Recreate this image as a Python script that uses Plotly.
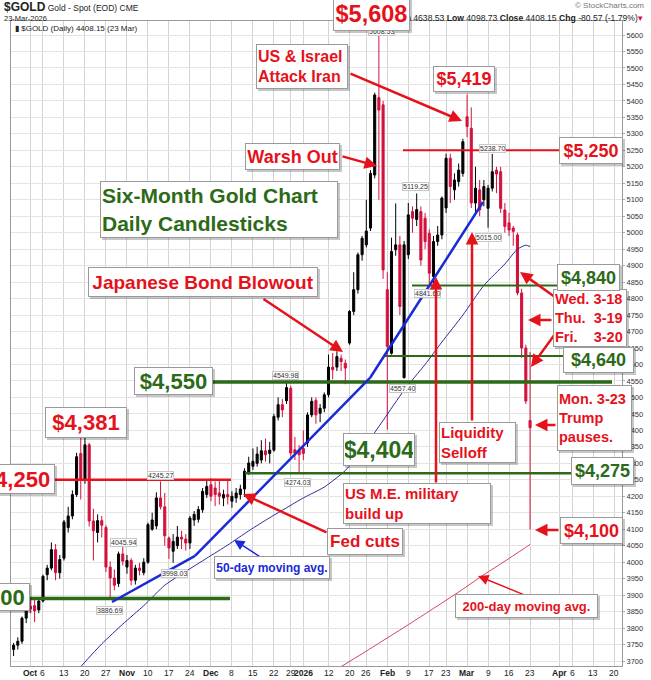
import plotly.graph_objects as go

# ---------------- data ----------------
dates = [
    "2025-09-25", "2025-09-26", "2025-09-29", "2025-09-30",
    "2025-10-01", "2025-10-02", "2025-10-03", "2025-10-06", "2025-10-07", "2025-10-08", "2025-10-09", "2025-10-10",
    "2025-10-13", "2025-10-14", "2025-10-15", "2025-10-16", "2025-10-17", "2025-10-20", "2025-10-21", "2025-10-22",
    "2025-10-23", "2025-10-24", "2025-10-27", "2025-10-28", "2025-10-29", "2025-10-30", "2025-10-31",
    "2025-11-03", "2025-11-04", "2025-11-05", "2025-11-06", "2025-11-07", "2025-11-10", "2025-11-11", "2025-11-12",
    "2025-11-13", "2025-11-14", "2025-11-17", "2025-11-18", "2025-11-19", "2025-11-20", "2025-11-21", "2025-11-24",
    "2025-11-25", "2025-11-26", "2025-11-27", "2025-11-28",
    "2025-12-01", "2025-12-02", "2025-12-03", "2025-12-04", "2025-12-05", "2025-12-08", "2025-12-09", "2025-12-10",
    "2025-12-11", "2025-12-12", "2025-12-15", "2025-12-16", "2025-12-17", "2025-12-18", "2025-12-19", "2025-12-22",
    "2025-12-23", "2025-12-24", "2025-12-26", "2025-12-29", "2025-12-30", "2025-12-31",
    "2026-01-02", "2026-01-05", "2026-01-06", "2026-01-07", "2026-01-08", "2026-01-09", "2026-01-12", "2026-01-13",
    "2026-01-14", "2026-01-15", "2026-01-16", "2026-01-20", "2026-01-21", "2026-01-22", "2026-01-23", "2026-01-26",
    "2026-01-27", "2026-01-28", "2026-01-29", "2026-01-30",
    "2026-02-02", "2026-02-03", "2026-02-04", "2026-02-05", "2026-02-06", "2026-02-09", "2026-02-10", "2026-02-11",
    "2026-02-12", "2026-02-13", "2026-02-17", "2026-02-18", "2026-02-19", "2026-02-20", "2026-02-23", "2026-02-24",
    "2026-02-25", "2026-02-26", "2026-02-27",
    "2026-03-02", "2026-03-03", "2026-03-04", "2026-03-05", "2026-03-06", "2026-03-09", "2026-03-10", "2026-03-11",
    "2026-03-12", "2026-03-13", "2026-03-16", "2026-03-17", "2026-03-18", "2026-03-19", "2026-03-20", "2026-03-23",
]

open_ = [
    3735, 3748, 3760, 3830,
    3866, 3868, 3855, 3882, 3962, 3982, 4038, 3968,
    4012, 4105, 4140, 4205, 4330, 4250, 4356, 4125,
    4090, 4126, 4105, 3985, 3952, 3935, 4025,
    3985, 4005, 3945, 3982, 3968, 4000, 4100, 4110,
    4195, 4168, 4073, 4033, 4050, 4076, 4070, 4058,
    4128, 4130, 4159, 4205,
    4235, 4225, 4210, 4195, 4205, 4185, 4195, 4205,
    4222, 4272, 4291, 4300, 4310, 4338, 4330, 4340,
    4440, 4478, 4490, 4528, 4341, 4341,
    4345, 4362, 4447, 4491, 4452, 4467, 4508, 4592,
    4592, 4619, 4604, 4665, 4761, 4827, 4933, 4963,
    5014, 5175, 5410, 5388,
    4827, 4634, 4948, 4963, 4560, 4933, 5064, 5040,
    5064, 5044, 4998, 4867, 4973, 4993, 5075, 5226,
    5130, 5155, 5180,
    5352, 5317, 5090, 5130, 5100, 5074, 5135, 5190,
    5185, 5069, 5030, 5014, 4993, 4817, 4650, 4430,
]

high = [
    3755, 3772, 3835, 3868,
    3885, 3888, 3892, 3962, 3992, 4060, 4055, 4022,
    4128, 4168, 4218, 4332, 4380, 4381, 4362, 4162,
    4145, 4140, 4112, 4002, 3978, 4032, 4046,
    4022, 4012, 3992, 3998, 4012, 4120, 4150, 4212,
    4245, 4210, 4078, 4085, 4110, 4095, 4085, 4140,
    4155, 4170, 4225, 4250,
    4255, 4245, 4250, 4220, 4250, 4215, 4225, 4235,
    4285, 4320, 4345, 4350, 4370, 4375, 4365, 4450,
    4500, 4495, 4550, 4535, 4380, 4355,
    4400, 4455, 4500, 4500, 4480, 4515, 4630, 4635,
    4640, 4630, 4615, 4765, 4880, 4940, 4990, 5100,
    5190, 5425, 5608, 5400,
    4880, 4985, 5089, 4990, 4975, 5090, 5080, 5119,
    5080, 5060, 5010, 4990, 5020, 5110, 5240, 5240,
    5180, 5210, 5285,
    5419, 5380, 5200, 5160, 5160, 5145, 5239, 5200,
    5200, 5090, 5060, 5020, 5000, 4830, 4660, 4638,
]

low = [
    3715, 3735, 3752, 3815,
    3845, 3818, 3845, 3878, 3945, 3975, 3945, 3950,
    4005, 4090, 4130, 4198, 4190, 4238, 4108, 4005,
    4060, 4075, 3970, 3887, 3915, 3925, 3990,
    3965, 3930, 3932, 3960, 3960, 3995, 4095, 4100,
    4160, 4050, 4010, 3998, 4040, 4040, 4035, 4040,
    4110, 4120, 4150, 4195,
    4185, 4170, 4175, 4170, 4175, 4165, 4180, 4190,
    4198, 4265, 4280, 4290, 4300, 4305, 4300, 4335,
    4430, 4440, 4480, 4320, 4310, 4274,
    4310, 4350, 4440, 4420, 4425, 4455, 4500, 4555,
    4580, 4580, 4540, 4660, 4750, 4815, 4915, 4955,
    5005, 5165, 5100, 4860,
    4402, 4630, 4930, 4750, 4557, 4920, 5000, 5020,
    4900, 4950, 4845, 4842, 4960, 4980, 5060, 5090,
    5100, 5140, 5170,
    5290, 5075, 5060, 5050, 5080, 5015, 5125, 5120,
    5060, 5000, 4990, 4960, 4810, 4620, 4480, 4099,
]

close = [
    3748, 3760, 3830, 3856,
    3858, 3852, 3882, 3957, 3982, 4038, 3968, 4008,
    4122, 4140, 4205, 4320, 4250, 4356, 4125, 4095,
    4126, 4112, 3985, 3952, 3930, 4025, 4003,
    4005, 3945, 3982, 3975, 4000, 4114, 4128, 4195,
    4168, 4080, 4043, 4063, 4076, 4070, 4058, 4134,
    4145, 4160, 4215, 4230,
    4200, 4205, 4200, 4205, 4198, 4200, 4210, 4222,
    4276, 4301, 4306, 4328, 4338, 4326, 4340, 4442,
    4478, 4462, 4530, 4331, 4331, 4326,
    4330, 4447, 4488, 4447, 4467, 4508, 4592, 4584,
    4624, 4609, 4589, 4761, 4827, 4933, 4983, 5005,
    5180, 5418, 5372, 4887,
    4655, 4943, 4963, 4776, 4963, 5054, 5044, 5070,
    4917, 4973, 4877, 4973, 4993, 5105, 5226, 5140,
    5160, 5190, 5276,
    5322, 5090, 5135, 5069, 5140, 5135, 5185, 5178,
    5074, 5019, 5008, 5004, 4817, 4650, 4489, 4408,
]

ma50_dates = ["2025-10-17", "2025-10-24", "2025-10-31", "2025-11-07", "2025-11-14", "2025-11-21", "2025-11-28",
              "2025-12-05", "2025-12-12", "2025-12-19", "2025-12-26", "2026-01-02", "2026-01-09", "2026-01-16",
              "2026-01-23", "2026-01-30", "2026-02-06", "2026-02-13", "2026-02-20", "2026-02-27", "2026-03-06",
              "2026-03-13", "2026-03-18", "2026-03-20", "2026-03-23"]
ma50_vals = [3683, 3752, 3812, 3868, 3930, 3972, 4012,
             4052, 4095, 4135, 4165, 4195, 4228, 4278,
             4340, 4430, 4522, 4600, 4668, 4750, 4840,
             4905, 4950, 4962, 4958]

ma200_dates = ["2026-01-15", "2026-01-23", "2026-01-30", "2026-02-06", "2026-02-13", "2026-02-20",
               "2026-02-27", "2026-03-06", "2026-03-13", "2026-03-20", "2026-03-23"]
ma200_vals = [3683, 3722, 3762, 3802, 3843, 3876, 3918, 3962, 4003, 4045, 4054]

tick_dates = ["2025-10-01", "2025-10-06", "2025-10-13", "2025-10-20", "2025-10-27", "2025-11-03", "2025-11-10",
              "2025-11-17", "2025-11-24", "2025-12-01", "2025-12-08", "2025-12-15", "2025-12-22", "2025-12-29",
              "2026-01-02", "2026-01-12", "2026-01-20", "2026-01-26", "2026-02-02", "2026-02-09", "2026-02-17",
              "2026-02-23", "2026-03-02", "2026-03-09", "2026-03-16", "2026-03-23", "2026-04-01", "2026-04-06",
              "2026-04-13", "2026-04-20"]
tick_text = ["<b>Oct</b>", "6", "13", "20", "27", "<b>Nov</b>", "10", "17", "24", "<b>Dec</b>", "8", "15", "22", "29",
             "<b>2026</b>", "12", "20", "26", "<b>Feb</b>", "9", "17", "23", "<b>Mar</b>", "9", "16", "23",
             "<b>Apr</b>", "6", "13", "20"]

price_ticks = [3700, 3750, 3800, 3850, 3900, 3950, 4000, 4050, 4100, 4150, 4200, 4250, 4300, 4350, 4400, 4450,
               4500, 4550, 4600, 4650, 4700, 4750, 4800, 4850, 4900, 4950, 5000, 5050, 5100, 5150, 5200, 5250,
               5300, 5350, 5400, 5450, 5500, 5550, 5600]

holidays = ["2025-12-25", "2026-01-01", "2026-01-19", "2026-02-16"]

# ---------------- styling / layout helpers ----------------
W, H = 651, 680
PL, PR, PT, PB = 11, 622, 21, 666
FONT = "Liberation Sans, Arial, sans-serif"
RED = "#e5121c"
GREEN = "#2c6a18"
BLUE = "#1a2ad6"
CANDLE_RED = "#d3103c"
PX_PER_DOLLAR = 626 / 1900.0   # 5600 at y=35, 3700 at y=661


def fx(px):
    return (px - PL) / (PR - PL)


def fy(py):
    return (PB - py) / (PB - PT)


y_top = 5600 + (35 - PT) / PX_PER_DOLLAR
y_bot = 3700 - (PB - 661) / PX_PER_DOLLAR

fig = go.Figure()

fig.add_trace(go.Candlestick(
    x=dates, open=open_, high=high, low=low, close=close,
    increasing=dict(line=dict(color="#000000", width=1), fillcolor="#000000"),
    decreasing=dict(line=dict(color=CANDLE_RED, width=1), fillcolor=CANDLE_RED),
    whiskerwidth=0, showlegend=False, hoverinfo="skip",
))
fig.add_trace(go.Scatter(x=ma50_dates, y=ma50_vals, mode="lines",
                         line=dict(color="#2b2b9c", width=1, shape="spline", smoothing=0.6),
                         showlegend=False, hoverinfo="skip"))
fig.add_trace(go.Scatter(x=ma200_dates, y=ma200_vals, mode="lines",
                         line=dict(color="#d4405e", width=1, shape="spline", smoothing=0.6),
                         showlegend=False, hoverinfo="skip"))

shapes = []


def hline(price, px0, px1, color, width):
    shapes.append(dict(type="line", xref="paper", yref="y", x0=fx(px0), x1=fx(px1), y0=price, y1=price,
                       line=dict(color=color, width=width), layer="above"))


hline(4250, 55, 231, RED, 2.5)
hline(5250, 403, 559, RED, 2)
hline(4547, 213, 612, GREEN, 3.5)
hline(3890, 30, 230, GREEN, 3.5)
hline(4270, 245, 571, GREEN, 2.5)
hline(4626, 383, 563, GREEN, 2)
hline(4840, 412, 557, GREEN, 2)

# blue trend line (pixel x, price y)
trend = [(112, 3879), (195, 4019), (370, 4559), (483, 5093)]
for (xa, ya), (xb, yb) in zip(trend[:-1], trend[1:]):
    shapes.append(dict(type="line", xref="paper", yref="y", x0=fx(xa), x1=fx(xb), y0=ya, y1=yb,
                       line=dict(color=BLUE, width=2.5), layer="above"))

annotations = []

# x-axis date labels, placed through the date axis
for d, t in zip(tick_dates, tick_text):
    annotations.append(dict(xref="x", yref="paper", x=d, y=fy(672.5), xanchor="center", yanchor="middle",
                            showarrow=False, text=t, font=dict(family=FONT, size=8.5, color="#222")))

# header texts
annotations.append(dict(xref="paper", yref="paper", x=fx(2), y=fy(7), xanchor="left", yanchor="middle",
                        showarrow=False, font=dict(family=FONT, size=8.5, color="#222"),
                        text="<b><span style='font-size:12px'>$GOLD</span></b> Gold - Spot (EOD) CME"))
annotations.append(dict(xref="paper", yref="paper", x=fx(2), y=fy(18.5), xanchor="left", yanchor="middle",
                        showarrow=False, font=dict(family=FONT, size=7.5, color="#222"), text="23-Mar-2026"))
annotations.append(dict(xref="paper", yref="paper", x=fx(646), y=fy(6), xanchor="right", yanchor="middle",
                        showarrow=False, font=dict(family=FONT, size=8, color="#777"), text="© StockCharts.com"))
annotations.append(dict(xref="paper", yref="paper", x=fx(645), y=fy(18), xanchor="right", yanchor="middle",
                        showarrow=False, font=dict(family=FONT, size=8.6, color="#222"),
                        text="<b>Open</b> 4426.57 <b>High</b> 4638.53 <b>Low</b> 4098.73 <b>Close</b> 4408.15 "
                             "<b>Chg</b> -80.57 (-1.79%)<span style='color:#d3103c'>▾</span>"))
annotations.append(dict(xref="paper", yref="paper", x=fx(13), y=fy(28), xanchor="left", yanchor="middle",
                        showarrow=False, font=dict(family=FONT, size=8, color="#222"),
                        text="▮ $GOLD (Daily) 4408.15 (23 Mar)"))

# small value tags
tags = [("5608.53", 381, 31), ("4549.98", 285, 375), ("4274.03", 297, 482), ("4245.27", 160, 476),
        ("4045.94", 123, 542), ("3998.03", 174, 573), ("3886.69", 110, 610), ("5119.25", 415, 187),
        ("5238.70", 492, 148), ("5015.00", 488, 237), ("4841.60", 428, 294), ("4557.40", 402, 388)]
for t, px, py in tags:
    annotations.append(dict(xref="paper", yref="paper", x=fx(px), y=fy(py), xanchor="center", yanchor="middle",
                            showarrow=False, text=t, font=dict(family=FONT, size=7, color="#333"),
                            bgcolor="rgba(255,255,255,0.9)", bordercolor="#c8c8c8", borderwidth=1, borderpad=0))

# arrows: (tail_x, tail_y, tip_x, tip_y, color, width)
arrows = [
    (349, 73, 462, 121, RED, 2.5),
    (341, 156, 377, 166, RED, 2.5),
    (262, 298, 343, 352, RED, 2.5),
    (436, 484, 436, 277, RED, 2.5),
    (472, 422, 472, 232, RED, 2.5),
    (328, 533, 243, 494, RED, 2.5),
    (262, 558, 234, 540, BLUE, 1.5),
    (527, 596, 478, 576, RED, 1.5),
    (560, 530, 535, 530, RED, 2.5),
    (557, 425, 535, 425, RED, 2.5),
    (555, 297, 520, 272, RED, 2.5),
    (553, 320, 528, 320, RED, 2.5),
    (555, 334, 531, 367, RED, 2.5),
]
for tx, ty, hx, hy, col, wd in arrows:
    annotations.append(dict(xref="paper", yref="paper", x=fx(hx), y=fy(hy), ax=tx - hx, ay=ty - hy,
                            axref="pixel", ayref="pixel", text="", showarrow=True, arrowhead=2,
                            arrowsize=1.0 if wd > 2 else 1.4, arrowwidth=wd, arrowcolor=col, standoff=0))

# boxed callouts: text, x0, x1, y0, y1, font size, colour, align
boxes = [
    ("$5,608", 333, 410, -4, 31, 23.5, RED, "center"),
    ("US & Israel<br>Attack Iran", 256, 348, 44, 89, 16, RED, "left"),
    ("$5,419", 433, 495, 66, 92, 18, RED, "center"),
    ("$5,250", 559, 623, 137, 164, 18, RED, "center"),
    ("Warsh Out", 245, 340, 143, 170, 18, RED, "center"),
    ("Six-Month Gold Chart<br>Daily Candlesticks", 100, 338, 181, 238, 21, GREEN, "left"),
    ("Japanese Bond Blowout", 88, 318, 267, 297, 19, RED, "center"),
    ("$4,550", 134, 213, 367, 395, 22, GREEN, "center"),
    ("$4,381", 45, 127, 407, 438, 22, RED, "center"),
    ("$4,250", -22, 55, 464, 494, 22, RED, "center"),
    ("$4,404", 343, 415, 433, 466, 23, GREEN, "center"),
    ("Liquidity<br>Selloff", 439, 516, 422, 463, 15, RED, "left"),
    ("$4,275", 571, 634, 457, 485, 18, GREEN, "center"),
    ("US M.E. military<br>build up", 343, 491, 483, 524, 15, RED, "left"),
    ("Fed cuts", 327, 403, 528, 555, 17, RED, "center"),
    ("50-day moving avg.", 214, 330, 556, 579, 12, BLUE, "center"),
    ("200-day moving avg.", 455, 598, 594, 618, 13, RED, "center"),
    ("$4,100", 560, 623, 517, 544, 18, RED, "center"),
    ("Mon. 3-23<br>Trump<br>pauses.", 557, 632, 385, 451, 14.5, RED, "left"),
    ("Wed. 3-18<br>Thu.  3-19<br>Fri.    3-20", 553, 627, 289, 347, 14.5, RED, "left"),
    ("$4,840", 557, 620, 264, 291, 18, GREEN, "center"),
    ("$4,640", 563, 634, 347, 373, 18, GREEN, "center"),
    ("$3,900", -48, 30, 583, 611, 22, GREEN, "center"),
]
for text, x0, x1, y0, y1, size, col, align in boxes:
    shapes.append(dict(type="rect", xref="paper", yref="paper", x0=fx(x0 + 2), x1=fx(x1 + 2), y0=fy(y1 + 2),
                       y1=fy(y0 + 2), fillcolor="rgba(0,0,0,0.22)", line=dict(width=0), layer="above"))
    annotations.append(dict(xref="paper", yref="paper", x=fx((x0 + x1) / 2), y=fy((y0 + y1) / 2),
                            xanchor="center", yanchor="middle", showarrow=False,
                            text="<b>" + text + "</b>", align=align,
                            width=x1 - x0 - 4, height=y1 - y0 - 4,
                            font=dict(family=FONT, size=size, color=col),
                            bgcolor="white", bordercolor="#9a9a9a", borderwidth=1, borderpad=1))

fig.update_layout(
    width=W, height=H,
    margin=dict(l=PL, r=W - PR, t=PT, b=H - PB, autoexpand=False),
    paper_bgcolor="white", plot_bgcolor="white",
    font=dict(family=FONT, size=8, color="#222"),
    shapes=shapes, annotations=annotations,
    showlegend=False,
    xaxis=dict(
        type="date", automargin=False,
        range=["2025-09-24 09:07", "2026-04-21 21:36"],
        rangebreaks=[dict(bounds=["sat", "mon"]), dict(values=holidays)],
        rangeslider=dict(visible=False),
        tickmode="array", tickvals=tick_dates, showticklabels=False,
        showgrid=True, gridcolor="#d4d4d4", gridwidth=1,
        showline=True, linecolor="#9a9a9a", mirror=True,
        ticks="", ticklen=0, zeroline=False, fixedrange=True,
    ),
    yaxis=dict(
        side="right", automargin=False,
        range=[y_bot, y_top],
        tickmode="array", tickvals=price_ticks, ticktext=[str(v) for v in price_ticks],
        tickfont=dict(family=FONT, size=7.5, color="#333"),
        showgrid=True, gridcolor="#e4e4e4", gridwidth=1,
        showline=True, linecolor="#9a9a9a", mirror=True,
        ticks="outside", ticklen=2, tickcolor="#aaa", zeroline=False, fixedrange=True,
    ),
)

fig.write_html("out.html", config={"displayModeBar": False},
               post_script="document.body.style.margin='0';")
